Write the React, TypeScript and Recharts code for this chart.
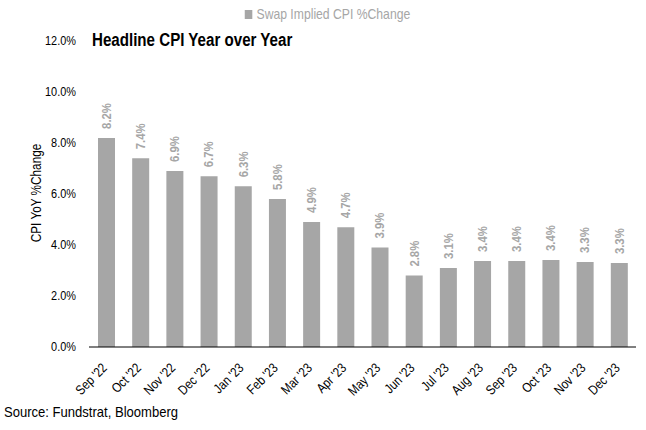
import React from "react"
import { BarChart, Bar, XAxis, YAxis, LabelList } from "recharts"

const months = [
  "Sep '22", "Oct '22", "Nov '22", "Dec '22", "Jan '23", "Feb '23", "Mar '23", "Apr '23",
  "May '23", "Jun '23", "Jul '23", "Aug '23", "Sep '23", "Oct '23", "Nov '23", "Dec '23",
]
const swapImplied = [8.2, 7.4, 6.9, 6.7, 6.3, 5.8, 4.9, 4.7, 3.9, 2.8, 3.1, 3.37, 3.37, 3.41, 3.33, 3.29]
const yTicks = [0, 2, 4, 6, 8, 10, 12]

const FONT = "'Liberation Sans', Arial, sans-serif"
const GREY = "#a6a6a6"
const NARROW = 0.84

const data = months.map((m, i) => ({ month: m, value: swapImplied[i] }))

function MonthTick(props: any) {
  const { x, y, payload } = props
  const tx = x - 5
  const ty = y + 7
  return (
    <text textAnchor="end" dominantBaseline="hanging" transform={`translate(${tx}, ${ty}) rotate(-45) scale(${NARROW}, 1)`}
      fontFamily={FONT} fontSize={13.5} fill="#000">
      {payload.value}
    </text>
  )
}

function PercentTick(props: any) {
  const { x, y, payload } = props
  return (
    <text textAnchor="end" dominantBaseline="central" transform={`translate(${x}, ${y}) scale(${NARROW}, 1)`}
      fontFamily={FONT} fontSize={13} fill="#000">
      {`${Number(payload.value).toFixed(1)}%`}
    </text>
  )
}

function ValueLabel(props: any) {
  const { x, y, width, value } = props
  const cx = x + width / 2
  const cy = y - 9
  return (
    <text textAnchor="start" dominantBaseline="central" transform={`translate(${cx}, ${cy}) rotate(-90) scale(${NARROW}, 1)`}
      fontFamily={FONT} fontSize={13.5} fontWeight="bold" fill={GREY}>
      {`${Number(value).toFixed(1)}%`}
    </text>
  )
}

export default function App() {
  return (
    <div style={{ position: "absolute", left: 0, top: 0, width: 646, height: 430, background: "#fff", overflow: "hidden" }}>
      <BarChart width={646} height={430} data={data} margin={{ top: 41, right: 10, left: 0, bottom: 0 }} barSize={17}>
        <XAxis dataKey="month" interval={0} tickLine={false} axisLine={{ stroke: "#000" }} height={83} tick={<MonthTick />} />
        <YAxis domain={[0, 12]} ticks={yTicks} width={89} axisLine={false} tickLine={false} tickMargin={7}
          tick={<PercentTick />} />
        <Bar dataKey="value" fill={GREY} isAnimationActive={false}>
          <LabelList dataKey="value" content={<ValueLabel />} />
        </Bar>
      </BarChart>
      <div style={{ position: "absolute", left: 0, top: 6, width: 646, display: "flex", justifyContent: "center" }}>
        <div style={{ display: "flex", alignItems: "center", fontFamily: FONT, fontSize: 14.5, color: GREY, transform: `scaleX(${NARROW})`, marginLeft: 8 }}>
          <span style={{ display: "inline-block", width: 9, height: 9, background: GREY, marginRight: 5 }} />
          Swap Implied CPI %Change
        </div>
      </div>
      <div style={{ position: "absolute", left: 92, top: 30, fontFamily: FONT, fontSize: 18, fontWeight: "bold", color: "#000",
        transform: `scaleX(${NARROW})`, transformOrigin: "left center", whiteSpace: "nowrap" }}>
        Headline CPI Year over Year
      </div>
      <div style={{ position: "absolute", left: 36, top: 193, fontFamily: FONT, fontSize: 14, color: "#000", whiteSpace: "nowrap",
        transform: `translate(-50%, -50%) rotate(-90deg) scaleX(${NARROW})` }}>
        CPI YoY %Change
      </div>
      <div style={{ position: "absolute", left: 4, top: 404, fontFamily: FONT, fontSize: 14.5, color: "#000",
        transform: "scaleX(0.9)", transformOrigin: "left center", whiteSpace: "nowrap" }}>
        Source: Fundstrat, Bloomberg
      </div>
    </div>
  )
}
